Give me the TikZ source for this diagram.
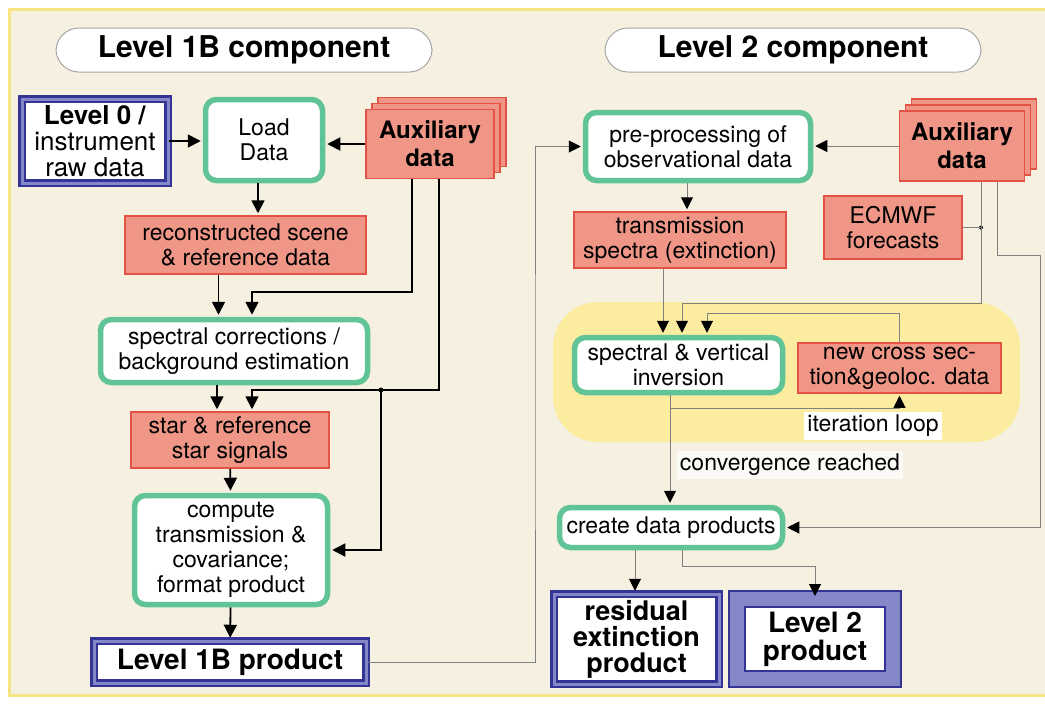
\documentclass[tikz,border=0pt]{standalone}
\usepackage{fontspec}
\setmainfont{TeX Gyre Heros}
\usetikzlibrary{arrows.meta,shadows}
\definecolor{bgbeige}{RGB}{246,240,225}
\definecolor{frameyellow}{RGB}{247,229,130}
\definecolor{loopyellow}{RGB}{251,236,160}
\definecolor{procgreen}{RGB}{96,196,150}
\definecolor{datafill}{RGB}{239,150,135}
\definecolor{dataline}{RGB}{228,82,70}
\definecolor{proddark}{RGB}{52,52,150}
\definecolor{prodlight}{RGB}{132,136,200}
\definecolor{wiregray}{RGB}{128,128,128}
\tikzset{
  title/.style={draw=gray!70, fill=white, rounded corners=23pt, line width=1pt,
    minimum width=376pt, minimum height=44pt, font=\fontsize{30}{32}\selectfont\bfseries},
  proc/.style={draw=procgreen, fill=white, line width=5.5pt, rounded corners=11pt,
    align=center, inner sep=2pt, font=\fontsize{23}{25}\selectfont},
  data/.style={draw=dataline, fill=datafill, line width=1.5pt, align=center,
    inner sep=2pt, font=\fontsize{23}{25}\selectfont},
  prod/.style={draw=proddark, double=prodlight, double distance=3pt, line width=2.5pt,
    fill=white, align=center, inner sep=2pt, font=\fontsize{27}{26}\selectfont\bfseries},
  stack/.style={data, double copy shadow={shadow xshift=6pt, shadow yshift=6pt},
    font=\fontsize{24}{28}\selectfont\bfseries},
  wire/.style={line width=1.8pt, shorten >=2pt, -{Triangle[length=13pt,width=13pt]}},
  gline/.style={draw=wiregray, line width=1pt},
  gwire/.style={gline, shorten >=2pt, -{Triangle[length=12pt,width=12pt,color=black]}},
  dot/.style={circle, fill=black, inner sep=0pt, minimum size=5pt},
  note/.style={fill=white, inner sep=3pt, font=\fontsize{23}{25}\selectfont}
}
\begin{document}
\begin{tikzpicture}[x=1pt,y=-1pt]
  \useasboundingbox (0,0) rectangle (1045,705);
  \fill[white] (0,0) rectangle (1045,705);
  \draw[frameyellow, fill=bgbeige, line width=3pt] (9,9) rectangle (1055,695);
  \fill[loopyellow, rounded corners=45pt] (553,302) rectangle (1020,442);
  % Level 1B side
  \node(t1) at (244,50) [title] {Level 1B component};
  \node(lev0) at (95,141) [prod, minimum width=146, minimum height=84,
    font=\fontsize{26}{26}\selectfont] {\textbf{Level 0 /}\\instrument\\raw data};
  \node(load) at (264,140) [proc, minimum width=117, minimum height=81] {Load\\Data};
  \node(aux1) at (430,144) [stack, minimum width=128, minimum height=69] {Auxiliary\\data};
  \node(recon) at (245.5,245) [data, minimum width=241, minimum height=58]
    {reconstructed scene\\\& reference data};
  \node(spec) at (234,351) [proc, minimum width=267, minimum height=63]
    {spectral corrections /\\background estimation};
  \node(star) at (230,440) [data, minimum width=198, minimum height=56]
    {star \& reference\\star signals};
  \node(comp) at (231,550) [proc, minimum width=193, minimum height=109]
    {compute\\transmission \&\\covariance;\\format product};
  \node(l1b) at (230,662) [prod, minimum width=272, minimum height=42,
    font=\fontsize{28}{28}\selectfont\bfseries] {Level 1B product};
  % Level 2 side
  \node(t2) at (793,50) [title] {Level 2 component};
  \node(pre) at (698,146.5) [proc, minimum width=225, minimum height=68]
    {pre-processing of\\observational data};
  \node(aux2) at (962,146) [stack, minimum width=125, minimum height=70] {Auxiliary\\data};
  \node(trans) at (680,240) [data, minimum width=212, minimum height=56]
    {transmission\\spectra (extinction)};
  \node(ecmwf) at (893,227.5) [data, minimum width=138, minimum height=63] {ECMWF\\forecasts};
  \node(inv) at (678.5,365) [proc, minimum width=208, minimum height=55]
    {spectral \& vertical\\inversion};
  \node(newcs) at (899.5,368) [data, minimum width=203, minimum height=50]
    {new cross sec-\\tion\&geoloc. data};
  \node(iter) at (873,426) [note] {iteration loop};
  \node(conv) at (790,465) [note, fill=white!70!bgbeige] {convergence reached};
  \node(create) at (671,527.5) [proc, minimum width=223, minimum height=40, inner sep=0pt]
    {create data products};
  \node(resid) at (636.5,639) [prod, minimum width=165, minimum height=90]
    {residual\\extinction\\product};
  \node(l2) at (815,639) [prod, line width=2pt, double distance=14pt,
    minimum width=156, minimum height=80, font=\fontsize{28}{28}\selectfont\bfseries]
    {Level 2\\product};
  % connectors, Level 1B
  \coordinate(a1) at (252,292);
  \coordinate(a2) at (252,390);
  \node(d1) at (381,390) [dot] {};
  \draw[wire] (lev0.east) -- (lev0.east -| load.west);
  \draw[wire] (aux1.west) -- (aux1.west -| load.east);
  \draw[wire] ([xshift=-6]load.south) -- ([xshift=-6]load.south |- recon.north);
  \draw[wire] ([xshift=-27]recon.south) -- ([xshift=-27]recon.south |- spec.north);
  \draw[wire] ([xshift=-18]aux1.south) |- (a1) -- (a1 |- spec.north);
  \draw[wire] ([xshift=9]aux1.south) |- (a2) -- (a2 |- star.north);
  \draw[wire] (d1.center) |- (comp.east);
  \draw[wire] ([xshift=-17]spec.south) -- ([xshift=-17]spec.south |- star.north);
  \draw[wire] (star) -- (comp);
  \draw[wire] (comp) -- (l1b);
  % connectors, Level 2
  \coordinate(r1) at (535,400);
  \coordinate(b1) at (682,303);
  \coordinate(b2) at (707,313);
  \coordinate(b3) at (670,408);
  \coordinate(b4) at (1040,255);
  \coordinate(b5) at (682,566);
  \node(d2) at (981,227.5) [dot, minimum size=4pt] {};
  \draw[gwire] (l1b.east) -| (r1) |- (pre.west);
  \draw[gwire] (aux2.west) -- (aux2.west -| pre.east);
  \draw[gwire] ([xshift=-11]pre.south) -- ([xshift=-11]pre.south |- trans.north);
  \draw[gwire] ([xshift=-17]trans.south) -- ([xshift=-17]trans.south |- inv.north);
  \draw[gline] (ecmwf.east) -- (d2.center);
  \draw[gwire] ([xshift=19]aux2.south) |- (b1) -- (b1 |- inv.north);
  \draw[gwire] (newcs.north) |- (b2) -- (b2 |- inv.north);
  \draw[gwire] (b3) -| (newcs.south);
  \draw[gwire] ([xshift=-8.5]inv.south) -- ([xshift=-8.5]inv.south |- create.north);
  \draw[gwire] ([xshift=35]aux2.south) |- (b4) |- (create.east);
  \draw[gwire] ([xshift=-36]create.south) -- ([xshift=-36]create.south |- resid.north);
  \draw[gwire] ([xshift=11]create.south) -- (b5) -| (l2.north);
\end{tikzpicture}
\end{document}
